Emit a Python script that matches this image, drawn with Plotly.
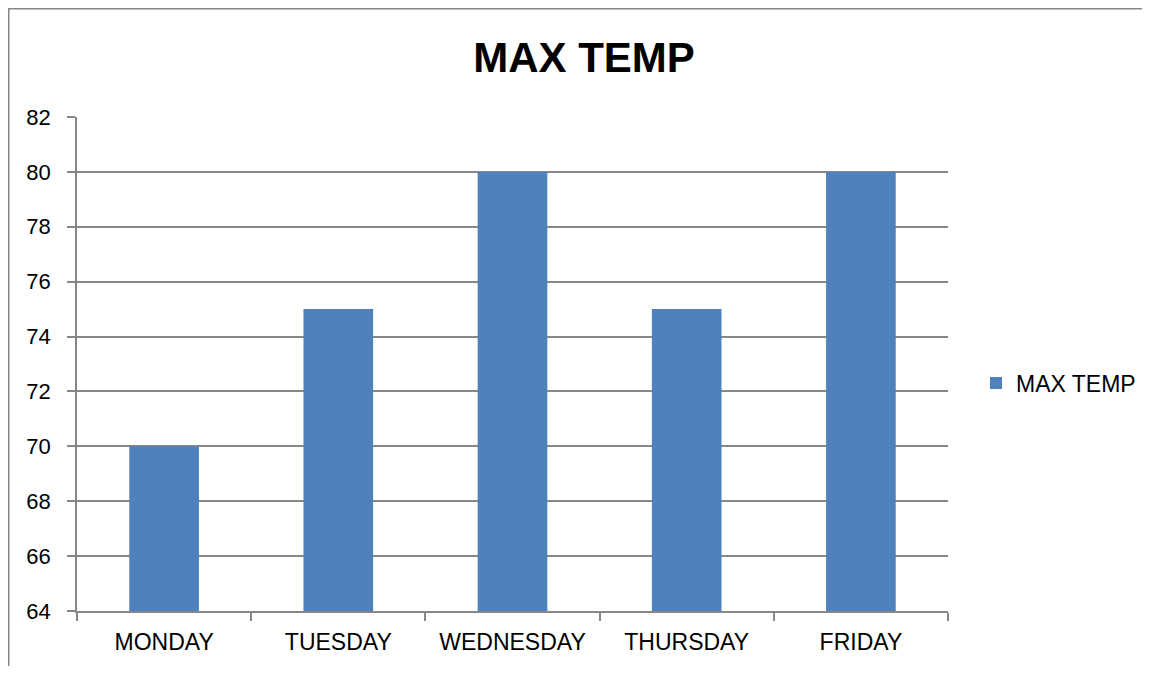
import plotly.graph_objects as go

days = ["MONDAY", "TUESDAY", "WEDNESDAY", "THURSDAY", "FRIDAY"]
max_temp = [70, 75, 80, 75, 80]

# page is rendered with an 8px body margin, so figure coords = page coords - 8
W, H = 1134, 658
L, R, T, B = 69, 940, 109, 603

fig = go.Figure()
fig.add_trace(go.Bar(
    x=days, y=max_temp, name="MAX TEMP",
    marker=dict(color="#4F81BD", line=dict(width=0)),
    showlegend=True,
))

def px_x(p):
    return (p - L) / (R - L)

def px_y(p):
    return (B - p) / (B - T)

grid = "#878787"
fig.update_layout(
    width=W, height=H,
    margin=dict(l=L, r=W - R, t=T, b=H - B, pad=0, autoexpand=False),
    paper_bgcolor="white", plot_bgcolor="white",
    bargap=0.6,
    font=dict(family="Liberation Sans, Arial, sans-serif", size=22, color="black"),
    title=dict(text="<b>MAX TEMP</b>", x=576 / W, xanchor="center",
               y=1 - 49 / H, yanchor="middle",
               font=dict(size=42, color="black")),
    xaxis=dict(
        showgrid=False, showline=True, linecolor=grid, linewidth=1.5,
        ticks="outside", ticklen=8, tickwidth=1.5, tickcolor=grid, tickson="boundaries",
        tickfont=dict(size=23), ticklabelstandoff=10, fixedrange=True,
    ),
    yaxis=dict(
        range=[64, 82], dtick=2, tick0=64,
        showgrid=True, gridcolor=grid, gridwidth=1.5,
        showline=True, linecolor=grid, linewidth=1.5,
        ticks="outside", ticklen=8, tickwidth=1.5, tickcolor=grid,
        tickfont=dict(size=22), ticklabelstandoff=12, zeroline=False,
    ),
    legend=dict(x=px_x(968), xanchor="left", y=px_y(375), yanchor="middle",
                font=dict(size=23), bgcolor="rgba(0,0,0,0)"),
    showlegend=True,
    shapes=[
        dict(type="line", xref="paper", yref="paper",
             x0=px_x(0), x1=px_x(W + 10), y0=px_y(0.5), y1=px_y(0.5),
             line=dict(color="#868686", width=2)),
        dict(type="line", xref="paper", yref="paper",
             x0=px_x(0.5), x1=px_x(0.5), y0=px_y(0), y1=px_y(H + 10),
             line=dict(color="#868686", width=2)),
    ],
)

fig.write_html("out.html")
